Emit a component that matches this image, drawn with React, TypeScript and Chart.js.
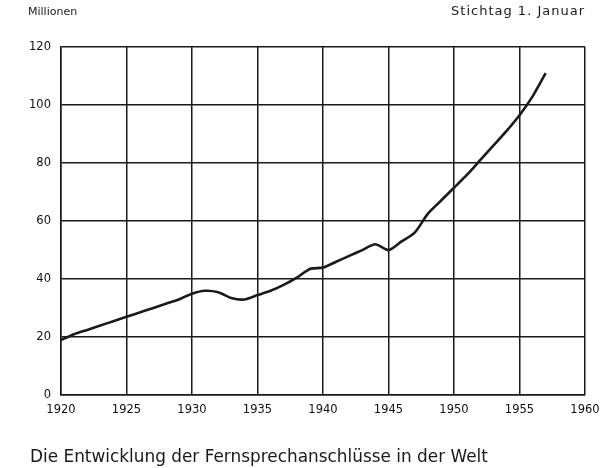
import React, { useEffect, useRef } from "react";
import { Chart, registerables } from "chart.js";

Chart.register(...registerables);

const years: number[] = [1920, 1921, 1922, 1923, 1924, 1925, 1926, 1927, 1928, 1929, 1930, 1931, 1932, 1933, 1934, 1935, 1936, 1937, 1938, 1939, 1940, 1941, 1942, 1943, 1944, 1945, 1946, 1947, 1948, 1949, 1950, 1951, 1952, 1953, 1954, 1955, 1956, 1957];
const connections: number[] = [19, 21, 22.5, 24, 25.5, 27, 28.5, 30, 31.5, 33, 35, 36, 35.5, 33.5, 33, 34.5, 36, 38, 40.5, 43.5, 44, 46, 48, 50, 52, 50, 53, 56, 62.5, 67, 71.5, 76, 81, 86, 91, 96.5, 103, 111];
const xTicks: number[] = [1920, 1925, 1930, 1935, 1940, 1945, 1950, 1955, 1960];
const yTicks: number[] = [0, 20, 40, 60, 80, 100, 120];

const unitLabel = "Millionen";
const dateLabel = "Stichtag 1. Januar";
const titleText = "Die Entwicklung der Fernsprechanschlüsse in der Welt";

export default function App() {
  const ref = useRef<HTMLCanvasElement | null>(null);

  useEffect(() => {
    document.body.style.margin = "0";
    document.body.style.overflow = "hidden";
    if (!ref.current) return;
    const ink = "#1a1a1a";
    const chart = new Chart(ref.current, {
      type: "line",
      data: {
        datasets: [
          {
            data: years.map((y, i) => ({ x: y, y: connections[i] })),
            borderColor: ink,
            borderWidth: 2.6,
            pointRadius: 0,
            tension: 0.25,
            fill: false,
          },
        ],
      },
      options: {
        responsive: false,
        animation: false,
        layout: { padding: { left: 19, right: 35, top: 47, bottom: 43 } },
        plugins: { legend: { display: false }, tooltip: { enabled: false } },
        scales: {
          x: {
            type: "linear",
            min: 1920,
            max: 1960,
            afterBuildTicks: (axis: any) => {
              axis.ticks = xTicks.map((v) => ({ value: v }));
            },
            ticks: {
              color: "#111",
              font: { family: "DejaVu Sans", size: 11.5 },
              padding: 8,
              maxRotation: 0,
              callback: (v: any) => String(v),
            },
            grid: { color: ink, lineWidth: 1.5, drawTicks: false },
            border: { color: ink, width: 1.5 },
          },
          y: {
            min: 0,
            max: 120,
            afterBuildTicks: (axis: any) => {
              axis.ticks = yTicks.map((v) => ({ value: v }));
            },
            ticks: {
              color: "#111",
              font: { family: "DejaVu Sans", size: 11.5 },
              padding: 10,
            },
            grid: { color: ink, lineWidth: 1.5, drawTicks: false },
            border: { color: ink, width: 1.5 },
          },
        },
      },
    });
    return () => chart.destroy();
  }, []);

  const textStyle: React.CSSProperties = {
    position: "absolute",
    fontFamily: "DejaVu Sans",
    color: "#1a1a1a",
    whiteSpace: "nowrap",
  };

  return (
    <div style={{ position: "relative", width: 602, height: 468, overflow: "hidden", background: "#fff" }}>
      <canvas ref={ref} width={620} height={468} style={{ position: "absolute", left: 0, top: 0 }} />
      <div style={{ ...textStyle, left: 28, top: 5, fontSize: 11 }}>{unitLabel}</div>
      <div style={{ ...textStyle, right: 17, top: 3, fontSize: 13, letterSpacing: 1 }}>{dateLabel}</div>
      <div style={{ ...textStyle, left: 30, top: 446, fontSize: 16.9 }}>{titleText}</div>
    </div>
  );
}
